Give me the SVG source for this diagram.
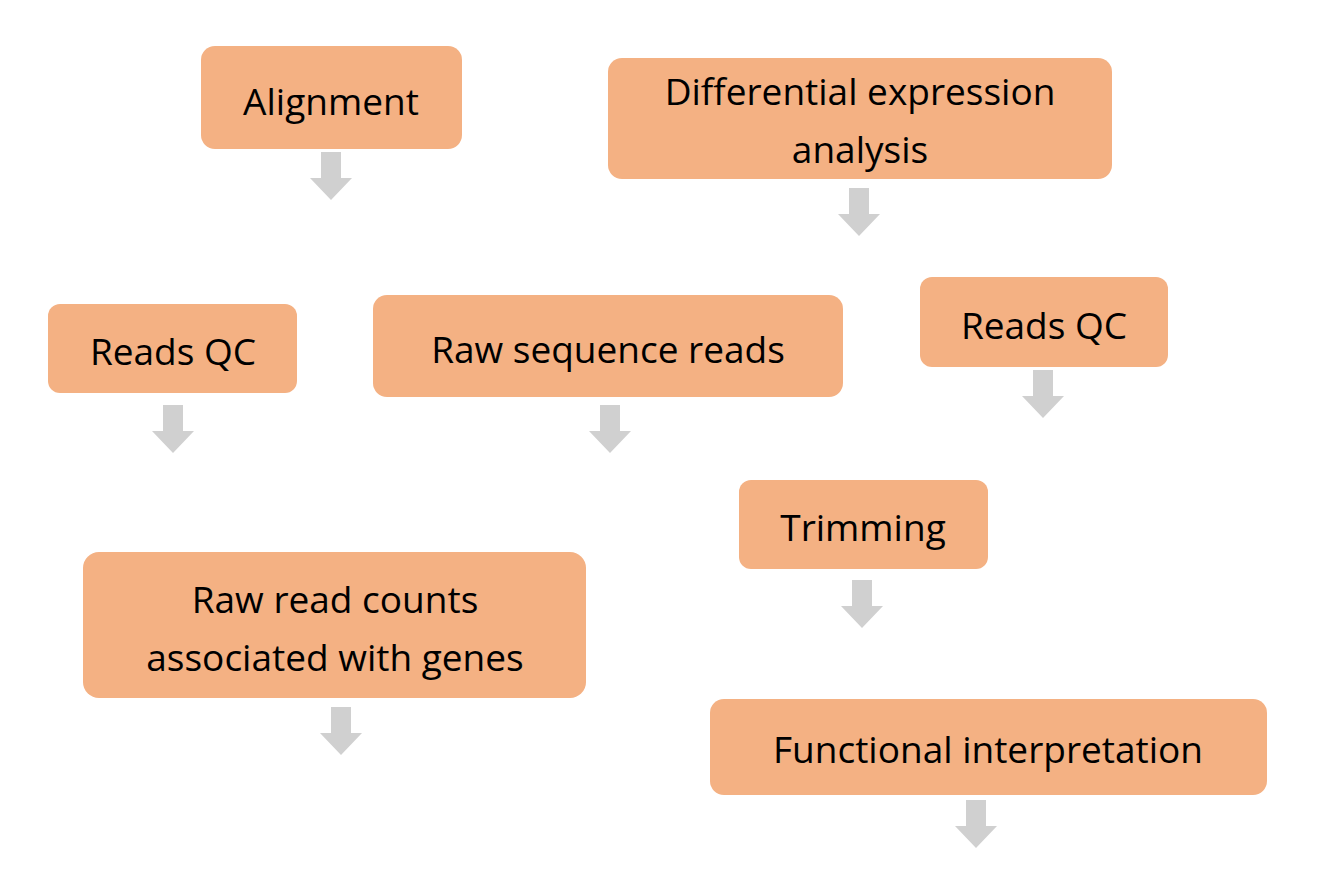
<svg xmlns="http://www.w3.org/2000/svg" width="1334" height="882" viewBox="0 0 1334 882">
<style>
.n rect{fill:#F4B183;}
.n text{font-family:"Open Sans","Liberation Sans",sans-serif;font-size:37px;fill:#000;text-anchor:middle;dominant-baseline:central;}
.a{fill:#D0D0D0;}
</style>
<defs><path id="arr" d="M-10,0 H10 V26 H21 L0,48 L-21,26 H-10 Z"/></defs>
<rect width="1334" height="882" fill="#fff"/>
<g id="n1" class="n"><rect x="201" y="46" width="261" height="103" rx="14"/><text x="331" y="100">Alignment</text></g>
<g id="n2" class="n"><rect x="608" y="58" width="504" height="121" rx="14"/><text x="860" y="90">Differential expression</text><text x="860" y="148">analysis</text></g>
<g id="n3" class="n"><rect x="48" y="304" width="249" height="89" rx="12"/><text x="173" y="350">Reads QC</text></g>
<g id="n4" class="n"><rect x="373" y="295" width="470" height="102" rx="14"/><text x="608" y="348">Raw sequence reads</text></g>
<g id="n5" class="n"><rect x="920" y="277" width="248" height="90" rx="12"/><text x="1044" y="324">Reads QC</text></g>
<g id="n6" class="n"><rect x="739" y="480" width="249" height="89" rx="12"/><text x="863" y="526">Trimming</text></g>
<g id="n7" class="n"><rect x="83" y="552" width="503" height="146" rx="16"/><text x="335" y="598">Raw read counts</text><text x="335" y="656">associated with genes</text></g>
<g id="n8" class="n"><rect x="710" y="699" width="557" height="96" rx="14"/><text x="988" y="748">Functional interpretation</text></g>
<g id="connectors" class="a">
<use href="#arr" x="331" y="152"/>
<use href="#arr" x="859" y="188"/>
<use href="#arr" x="173" y="405"/>
<use href="#arr" x="610" y="405"/>
<use href="#arr" x="1043" y="370"/>
<use href="#arr" x="862" y="580"/>
<use href="#arr" x="341" y="707"/>
<use href="#arr" x="976" y="800"/>
</g>
</svg>
